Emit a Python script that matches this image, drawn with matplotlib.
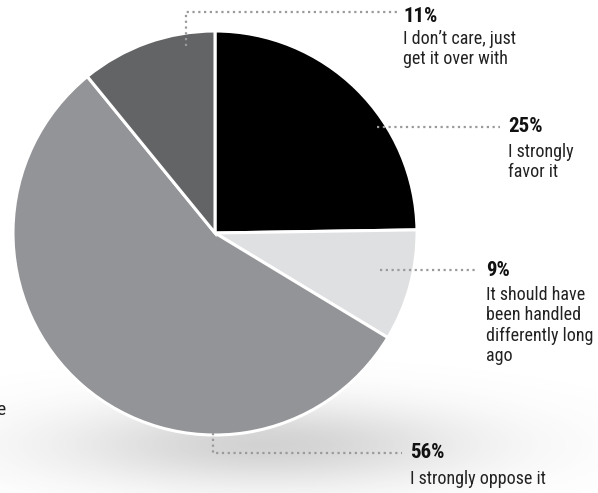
import matplotlib
matplotlib.use('Agg')
import matplotlib.pyplot as plt
import numpy as np
from matplotlib import font_manager

# slice data, clockwise from 12 o'clock
shares = [25, 9, 56, 11]
pct_labels = ['25%', '9%', '56%', '11%']
descriptions = [
    'I strongly\nfavor it',
    'It should have\nbeen handled\ndifferently long\nago',
    'I strongly oppose it',
    'I don\u2019t care, just\nget it over with',
]
slice_colors = ['#000000', '#dfe0e2', '#939497', '#636466']

W, H = 598, 493
available = {f.name for f in font_manager.fontManager.ttflist}
family = 'DejaVu Sans'
for cand in ['Roboto Condensed', 'Liberation Sans Narrow', 'Open Sans Condensed',
             'DejaVu Sans Condensed', 'Roboto']:
    if cand in available:
        family = cand
        break
plt.rcParams['font.family'] = [family, 'DejaVu Sans']

fig = plt.figure(figsize=(W / 100, H / 100), dpi=100)
ax = fig.add_axes([0, 0, 1, 1])


def Y(y):
    # pixel row -> data y
    return H - y


# soft floor shadow under the pie
gx = np.linspace(0, W, 300)
gy = np.linspace(340, H, 90)
XX, YY = np.meshgrid(gx, gy)
d = ((XX - 265) / 235) ** 2 + ((YY - 445) / 48) ** 2
alpha = 0.30 * np.exp(-1.3 * d)
shadow = np.zeros(XX.shape + (4,))
shadow[..., :3] = 0.42
shadow[..., 3] = alpha
ax.imshow(shadow, extent=(0, W, Y(H), Y(340)), origin='upper', zorder=0,
          interpolation='bilinear', aspect='auto')

cx, cy, r = 215, 233, 202
ax.pie(shares, colors=slice_colors, startangle=90, counterclock=False,
       center=(cx, Y(cy)), radius=r,
       wedgeprops=dict(edgecolor='white', linewidth=2.2, zorder=2))

lead = dict(color='#9a9a9a', linestyle=(0, (1, 1.6)), linewidth=1.6, zorder=3)

# leader lines (pixel coordinates)
ax.plot([377, 500], [Y(127), Y(127)], **lead)
ax.plot([380, 477], [Y(270), Y(270)], **lead)
ax.plot([213, 213, 402], [Y(433), Y(453), Y(453)], **lead)
ax.plot([186, 186, 398], [Y(46), Y(12), Y(12)], **lead)

# (x, pct row, top of description) in pixels
label_pos = [(508, 127, 143), (486, 270, 286), (410, 453, 470), (403, 16, 30)]
for (lx, ly, ty), pct, desc in zip(label_pos, pct_labels, descriptions):
    ax.text(lx, Y(ly), pct, fontsize=15, fontweight='bold', ha='left',
            va='center', color='#111111', zorder=4)
    ax.text(lx, Y(ty), desc, fontsize=13, ha='left', va='top',
            color='#222222', linespacing=1.16, zorder=4)

# clipped label fragment at the left edge
ax.text(-3, Y(410), 'e', fontsize=14, ha='left', va='center', color='#222222')

ax.set_xlim(0, W)
ax.set_ylim(0, H)
ax.set_aspect('auto')
ax.axis('off')

fig.savefig('out.png', dpi=100, facecolor='white')
